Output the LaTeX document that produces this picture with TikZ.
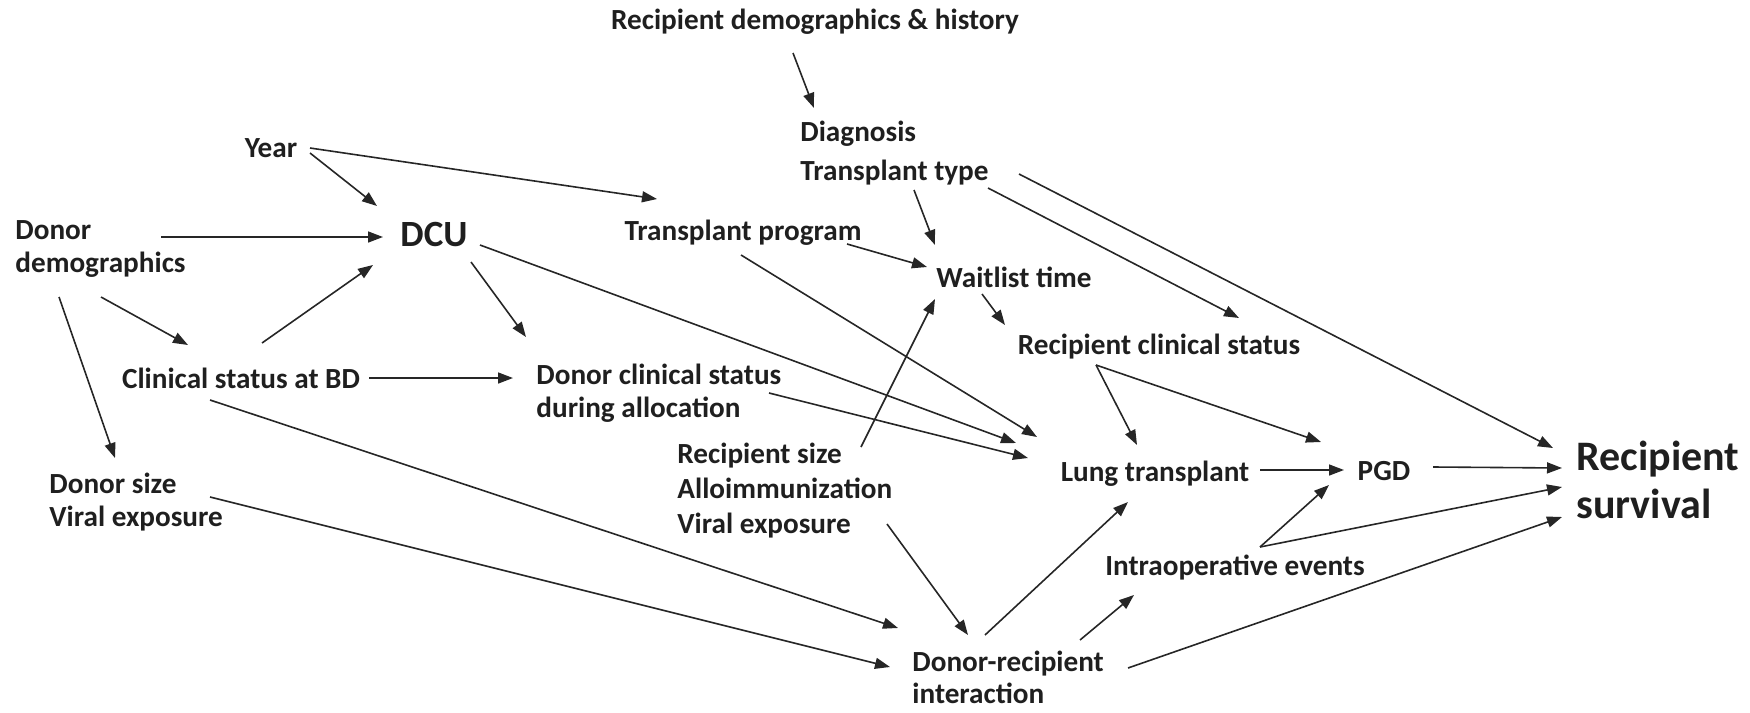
\documentclass[tikz,border=0pt]{standalone}
\usepackage{fontspec}
\setmainfont{Carlito}
\usetikzlibrary{arrows.meta}
\begin{document}
\begin{tikzpicture}[x=0.5pt,y=-0.5pt,
  lab/.style={inner sep=0pt,font=\bfseries\fontsize{14.6}{16.5}\selectfont,text=black!88},
  multi/.style={lab,align=left,anchor=west},
  arr/.style={line width=0.8pt,draw=black!85,-{Triangle[length=7.5pt,width=5.5pt]}}]
\useasboundingbox (0,0) rectangle (1750,712);
% nodes
\node[lab] (rdh) at (815,22) {Recipient demographics \& history};
\node[multi,font=\bfseries\fontsize{14.6}{19.5}\selectfont] (diag) at (800,153) {Diagnosis\\Transplant type};
\node[lab] (year) at (271,148) {Year};
\node[multi] (ddem) at (15,249) {Donor\\demographics};
\node[lab,font=\bfseries\fontsize{18.5}{22}\selectfont] (dcu) at (434,235) {DCU};
\node[lab] (tprog) at (743,233) {Transplant program};
\node[lab] (wait) at (1014,277) {Waitlist time};
\node[lab] (cbd) at (241,378) {Clinical status at BD};
\node[multi,font=\bfseries\fontsize{14.6}{16.5}\selectfont] (dcs) at (536,393) {Donor clinical status\\during allocation};
\node[lab] (rcs) at (1159,347) {Recipient clinical status};
\node[multi,font=\bfseries\fontsize{14.6}{17.5}\selectfont] (rsize) at (677,491) {Recipient size\\Alloimmunization\\Viral exposure};
\node[multi] (dsize) at (49,502) {Donor size\\Viral exposure};
\node[lab] (lung) at (1155,474) {Lung transplant};
\node[lab] (pgd) at (1384,471) {PGD};
\node[multi,font=\bfseries\fontsize{21}{24}\selectfont] (surv) at (1576,480) {Recipient\\survival};
\node[lab] (intra) at (1235,568) {Intraoperative events};
\node[multi,font=\bfseries\fontsize{14.6}{16}\selectfont] (dri) at (912,677) {Donor-recipient\\interaction};
% connectors
\draw[arr] ([shift={(-22,31)}]rdh.center) -- ([shift={(14,-45)}]diag.west);
\draw[arr] ([shift={(39,5)}]year.center) -- ([shift={(-57,-29)}]dcu.center);
\draw[arr] ([shift={(39,0)}]year.center) -- ([shift={(-86,-34)}]tprog.center);
\draw[arr] ([shift={(146,-12)}]ddem.west) -- ([shift={(-51,2)}]dcu.center);
\draw[arr] ([shift={(86,48)}]ddem.west) -- ([shift={(-53,-33)}]cbd.center);
\draw[arr] ([shift={(44,48)}]ddem.west) -- ([shift={(66,-44)}]dsize.west);
\draw[arr] ([shift={(21,-35)}]cbd.center) -- ([shift={(-61,30)}]dcu.center);
\draw[arr] ([shift={(37,27)}]dcu.center) -- ([shift={(-10,-56)}]dcs.west);
\draw[arr] ([shift={(46,10)}]dcu.center) -- ([shift={(-139,-31)}]lung.center);
\draw[arr] ([shift={(128,0)}]cbd.center) -- ([shift={(-23,-15)}]dcs.west);
\draw[arr] ([shift={(-31,22)}]cbd.center) -- ([shift={(-14,-49)}]dri.west);
\draw[arr] ([shift={(161,-5)}]dsize.west) -- ([shift={(-22,-10)}]dri.west);
\draw[arr] ([shift={(114,37)}]diag.west) -- ([shift={(-79,-32)}]wait.center);
\draw[arr] ([shift={(104,11)}]tprog.center) -- ([shift={(-87,-10)}]wait.center);
\draw[arr] ([shift={(188,35)}]diag.west) -- ([shift={(80,-29)}]rcs.center);
\draw[arr] ([shift={(219,21)}]diag.west) -- ([shift={(-23,-32)}]surv.west);
\draw[arr] ([shift={(-32,17)}]wait.center) -- ([shift={(-154,-22)}]rcs.center);
\draw[arr] ([shift={(184,-44)}]rsize.west) -- ([shift={(-79,22)}]wait.center);
\draw[arr] ([shift={(-63,18)}]rcs.center) -- ([shift={(-18,-29)}]lung.center);
\draw[arr] ([shift={(-63,18)}]rcs.center) -- ([shift={(-63,-29)}]pgd.center);
\draw[arr] ([shift={(-2,22)}]tprog.center) -- ([shift={(-118,-37)}]lung.center);
\draw[arr] ([shift={(233,0)}]dcs.west) -- ([shift={(-127,-16)}]lung.center);
\draw[arr] ([shift={(105,-4)}]lung.center) -- ([shift={(-40,-1)}]pgd.center);
\draw[arr] ([shift={(49,-4)}]pgd.center) -- ([shift={(-14,-12)}]surv.west);
\draw[arr] ([shift={(25,-21)}]intra.center) -- ([shift={(-55,14)}]pgd.center);
\draw[arr] ([shift={(25,-21)}]intra.center) -- ([shift={(-14,7)}]surv.west);
\draw[arr] ([shift={(73,-42)}]dri.west) -- ([shift={(-27,28)}]lung.center);
\draw[arr] ([shift={(168,-37)}]dri.west) -- ([shift={(-101,27)}]intra.center);
\draw[arr] ([shift={(216,-9)}]dri.west) -- ([shift={(-14,37)}]surv.west);
\draw[arr] ([shift={(210,33)}]rsize.west) -- ([shift={(56,-42)}]dri.west);
\end{tikzpicture}
\end{document}
